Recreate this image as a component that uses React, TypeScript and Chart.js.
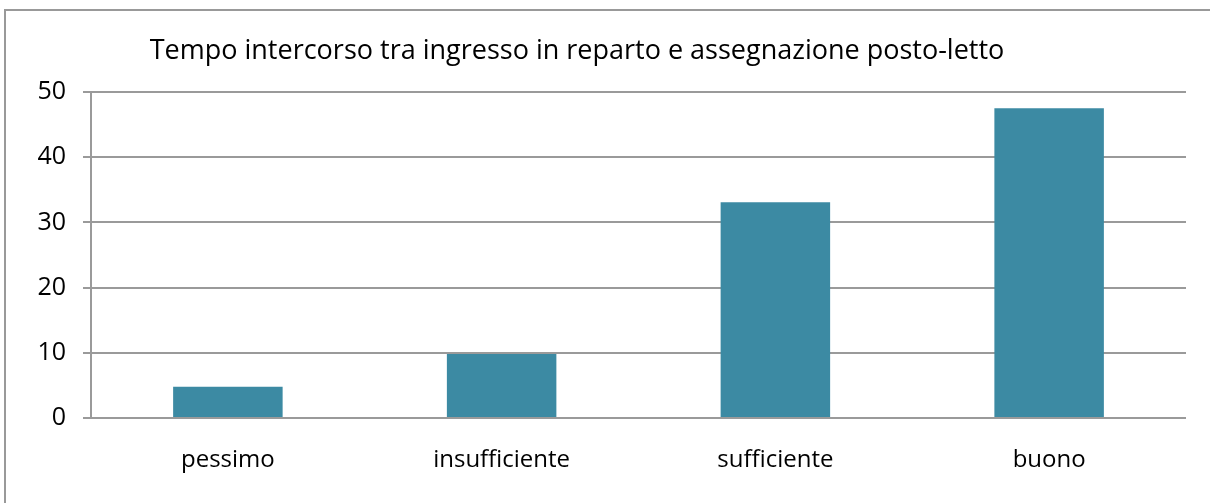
import React, { useEffect, useRef } from "react";
import { Chart, registerables } from "chart.js";

Chart.register(...registerables);

const categories = ["pessimo", "insufficiente", "sufficiente", "buono"];
const values = [4.8, 9.8, 33.1, 47.5];
const yTicks = [0, 10, 20, 30, 40, 50];
const titleText = "Tempo intercorso tra ingresso in reparto e assegnazione posto-letto";

const FONT = "'Open Sans', 'DejaVu Sans', sans-serif";
const BAR = "#3C8AA3";
const GRID = "#9a9a9a";

const titlePlugin = {
  id: "customTitle",
  afterDraw(chart: any) {
    const ctx = chart.ctx;
    ctx.save();
    ctx.font = `27px ${FONT}`;
    ctx.fillStyle = "#000";
    ctx.textAlign = "center";
    ctx.textBaseline = "alphabetic";
    ctx.fillText(titleText, 577, 59);
    ctx.restore();
  },
};

export default function App() {
  const ref = useRef<HTMLCanvasElement>(null);
  useEffect(() => {
    if (!ref.current) return;
    const chart = new Chart(ref.current, {
      type: "bar",
      data: {
        labels: categories,
        datasets: [
          {
            data: values,
            backgroundColor: BAR,
            barPercentage: 0.4,
            categoryPercentage: 1,
          },
        ],
      },
      options: {
        animation: false,
        responsive: false,
        maintainAspectRatio: false,
        layout: { padding: { left: 0, right: 24, top: 92, bottom: 0 } },
        plugins: { legend: { display: false }, title: { display: false }, tooltip: { enabled: false } },
        scales: {
          x: {
            grid: { display: false, drawTicks: false },
            border: { display: false },
            ticks: { color: "#000", font: { family: FONT, size: 24 }, padding: 28 },
            afterFit: (s: any) => { s.height = 85; },
          },
          y: {
            min: 0,
            max: 50,
            afterBuildTicks: (s: any) => { s.ticks = yTicks.map((v) => ({ value: v })); },
            grid: { color: GRID, lineWidth: 2, tickLength: 8, drawTicks: true },
            border: { display: true, color: GRID, width: 2 },
            ticks: { color: "#000", font: { family: FONT, size: 25 }, padding: 17 },
            afterFit: (s: any) => { s.width = 91; },
          },
        },
      },
      plugins: [titlePlugin],
    });
    return () => chart.destroy();
  }, []);
  return (
    <div style={{ position: "fixed", left: 0, top: 0, width: 1210, height: 503, background: "#fff" }}>
      <div
        style={{
          position: "absolute",
          left: 4,
          top: 9,
          width: 1210,
          height: 503,
          borderLeft: "2px solid #999",
          borderTop: "2px solid #999",
        }}
      />
      <canvas ref={ref} width={1210} height={503} style={{ position: "absolute", left: 0, top: 0 }} />
    </div>
  );
}
